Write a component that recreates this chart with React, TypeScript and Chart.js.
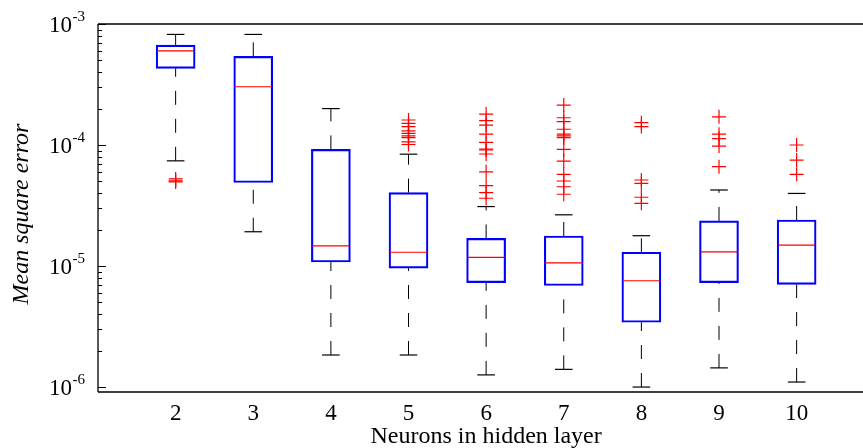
import React, { useEffect, useRef } from "react";
import { Chart, registerables } from "chart.js";
Chart.register(...registerables);

// ---- data ----
const categories = [2, 3, 4, 5, 6, 7, 8, 9, 10];
const whiskerLow = [7.4e-5, 1.92e-5, 1.84e-6, 1.84e-6, 1.26e-6, 1.4e-6, 1.0e-6, 1.44e-6, 1.1e-6];
const q1 = [4.3e-4, 4.9e-5, 1.08e-5, 9.6e-6, 7.3e-6, 6.9e-6, 3.43e-6, 7.3e-6, 7.06e-6];
const medians = [6.0e-4, 3.03e-4, 1.47e-5, 1.3e-5, 1.18e-5, 1.06e-5, 7.56e-6, 1.31e-5, 1.49e-5];
const q3 = [6.7e-4, 5.4e-4, 9.2e-5, 4.04e-5, 1.69e-5, 1.77e-5, 1.3e-5, 2.36e-5, 2.4e-5];
const whiskerHigh = [8.2e-4, 8.2e-4, 2.0e-4, 8.4e-5, 3.1e-5, 2.65e-5, 1.78e-5, 4.25e-5, 3.98e-5];
const outliers2 = [5.25e-5, 5.05e-5, 4.95e-5];
const outliers3: number[] = [];
const outliers4: number[] = [];
const outliers5 = [1.61e-4, 1.51e-4, 1.42e-4, 1.31e-4, 1.25e-4, 1.19e-4, 1.15e-4, 1.06e-4, 1.01e-4];
const outliers6 = [1.8e-4, 1.59e-4, 1.46e-4, 1.23e-4, 1.05e-4, 9.27e-5, 9.1e-5, 8.43e-5, 6.0e-5, 4.61e-5, 4.04e-5, 3.63e-5];
const outliers7 = [2.14e-4, 1.68e-4, 1.56e-4, 1.35e-4, 1.23e-4, 1.19e-4, 1.15e-4, 9.2e-5, 7.37e-5, 5.73e-5, 5.04e-5, 4.52e-5, 3.92e-5];
const outliers8 = [1.53e-4, 1.42e-4, 5.14e-5, 4.82e-5, 3.7e-5, 3.3e-5];
const outliers9 = [1.71e-4, 1.23e-4, 1.13e-4, 9.8e-5, 6.62e-5];
const outliers10 = [1.0e-4, 7.51e-5, 5.73e-5];
const outliers = [outliers2, outliers3, outliers4, outliers5, outliers6, outliers7, outliers8, outliers9, outliers10];
const yTickValues = [1e-3, 1e-4, 1e-5, 1e-6];
const yTickExponents = ["-3", "-4", "-5", "-6"];
const xTitle = "Neurons in hidden layer";
const yTitle = "Mean square error";
const yMin = 9.1e-7;
const yMax = 1e-3;
const xMin = 1;
const xMax = 10.855; // visible part of an axis running from 1 to 11
const xAxisEnd = 11;

const FONT = "'Liberation Serif', 'Times New Roman', serif";

const frameAndLabels = {
  id: "frameAndLabels",
  afterDraw(chart: any) {
    const { ctx, chartArea } = chart;
    const { left, top, bottom } = chartArea;
    const y = chart.scales.y;
    const x = chart.scales.x;
    const W = chart.width;
    ctx.save();
    ctx.strokeStyle = "#000";
    ctx.lineWidth = 1.3;
    ctx.beginPath();
    ctx.moveTo(left, top);
    ctx.lineTo(W, top);
    ctx.moveTo(left, top);
    ctx.lineTo(left, bottom);
    ctx.moveTo(left, bottom);
    ctx.lineTo(W, bottom);
    ctx.stroke();

    // inward ticks
    ctx.lineWidth = 1;
    ctx.beginPath();
    for (let e = -7; e <= -3; e++) {
      for (let k = 1; k <= 9; k++) {
        const v = k * Math.pow(10, e);
        if (v < yMin * 0.999 || v > yMax * 1.001) continue;
        const py = Math.round(y.getPixelForValue(v)) + 0.5;
        const len = k === 1 ? 8 : 4;
        ctx.moveTo(left, py);
        ctx.lineTo(left + len, py);
      }
    }
    ctx.stroke();

    // tick labels 10^e
    ctx.fillStyle = "#000";
    yTickValues.forEach((v, i) => {
      const py = y.getPixelForValue(v);
      ctx.font = `23px ${FONT}`;
      ctx.textAlign = "right";
      ctx.textBaseline = "alphabetic";
      ctx.fillText("10", 72, py + 8);
      ctx.font = `15px ${FONT}`;
      ctx.textAlign = "left";
      ctx.fillText(yTickExponents[i], 72.5, py - 3);
    });

    // axis titles
    ctx.font = `24px ${FONT}`;
    ctx.textAlign = "center";
    ctx.textBaseline = "alphabetic";
    ctx.fillText(xTitle, x.getPixelForValue((xMin + xAxisEnd) / 2), 443);

    ctx.save();
    ctx.translate(28, (top + bottom) / 2 + 6);
    ctx.rotate(-Math.PI / 2);
    ctx.font = `italic 24px ${FONT}`;
    ctx.fillText(yTitle, 0, 0);
    ctx.restore();

    ctx.restore();
  },
};

export default function App() {
  const ref = useRef<HTMLCanvasElement | null>(null);
  useEffect(() => {
    if (!ref.current) return;
    const whiskerData: any[] = [];
    categories.forEach((c, i) => {
      whiskerData.push({ x: c, y: whiskerLow[i] });
      whiskerData.push({ x: c, y: q1[i] });
      whiskerData.push({ x: c, y: null });
      whiskerData.push({ x: c, y: q3[i] });
      whiskerData.push({ x: c, y: whiskerHigh[i] });
      whiskerData.push({ x: c, y: null });
    });
    const capData: any[] = [];
    categories.forEach((c, i) => {
      capData.push({ x: c, y: whiskerLow[i] });
      capData.push({ x: c, y: whiskerHigh[i] });
    });
    const outlierData: any[] = [];
    categories.forEach((c, i) => {
      outliers[i].forEach((v) => outlierData.push({ x: c, y: v }));
    });

    const chart = new Chart(ref.current, {
      type: "bar",
      data: {
        datasets: [
          {
            type: "scatter",
            data: outlierData,
            pointStyle: "cross",
            pointRadius: 7,
            borderColor: "#ff0000",
            backgroundColor: "#ff0000",
            pointBorderWidth: 1.2,
            order: 0,
          } as any,
          {
            type: "scatter",
            data: categories.map((c, i) => ({ x: c, y: medians[i] })),
            pointStyle: "line",
            pointRadius: 18.5,
            borderColor: "#ff0000",
            pointBorderWidth: 1.2,
            order: 1,
          } as any,
          {
            type: "scatter",
            data: capData,
            pointStyle: "line",
            pointRadius: 8.8,
            borderColor: "#000000",
            pointBorderWidth: 1.2,
            order: 2,
          } as any,
          {
            type: "bar",
            data: categories.map((c, i) => ({ x: c, y: [q1[i], q3[i]] })),
            backgroundColor: "rgba(255,255,255,0)",
            borderColor: "#0000ff",
            borderWidth: 1.5,
            borderSkipped: false,
            barThickness: 39,
            order: 3,
          } as any,
          {
            type: "line",
            data: whiskerData,
            borderColor: "#000000",
            borderWidth: 1,
            borderDash: [14, 14],
            pointRadius: 0,
            spanGaps: false,
            tension: 0,
            order: 4,
          } as any,
        ],
      },
      options: {
        animation: false,
        responsive: false,
        events: [],
        layout: { autoPadding: false, padding: { top: 24, right: 0, left: 0, bottom: 0 } },
        plugins: { legend: { display: false }, tooltip: { enabled: false } },
        scales: {
          x: {
            type: "linear",
            min: xMin,
            max: xMax,
            offset: false,
            grid: { display: false, drawTicks: false },
            border: { display: false },
            afterBuildTicks: (s: any) => {
              s.ticks = categories.map((v) => ({ value: v }));
            },
            afterFit: (s: any) => {
              s.height = 56;
              s.paddingLeft = 0;
              s.paddingRight = 0;
            },
            ticks: {
              font: { family: FONT, size: 23 },
              color: "#000",
              padding: 8,
              maxRotation: 0,
              autoSkip: false,
              callback: (v: any) => String(v),
            },
            title: { display: false },
          },
          y: {
            type: "logarithmic",
            min: yMin,
            max: yMax,
            grid: { display: false, drawTicks: false },
            border: { display: false },
            ticks: { display: false },
            afterFit: (s: any) => {
              s.width = 98;
              s.paddingTop = 0;
              s.paddingBottom = 0;
            },
            title: { display: false },
          },
        },
      } as any,
      plugins: [frameAndLabels],
    });
    return () => chart.destroy();
  }, []);
  return (
    <div style={{ position: "fixed", left: 0, top: 0, width: 863, height: 448, background: "#fff" }}>
      <canvas ref={ref} width={863} height={448} style={{ display: "block" }} />
    </div>
  );
}
